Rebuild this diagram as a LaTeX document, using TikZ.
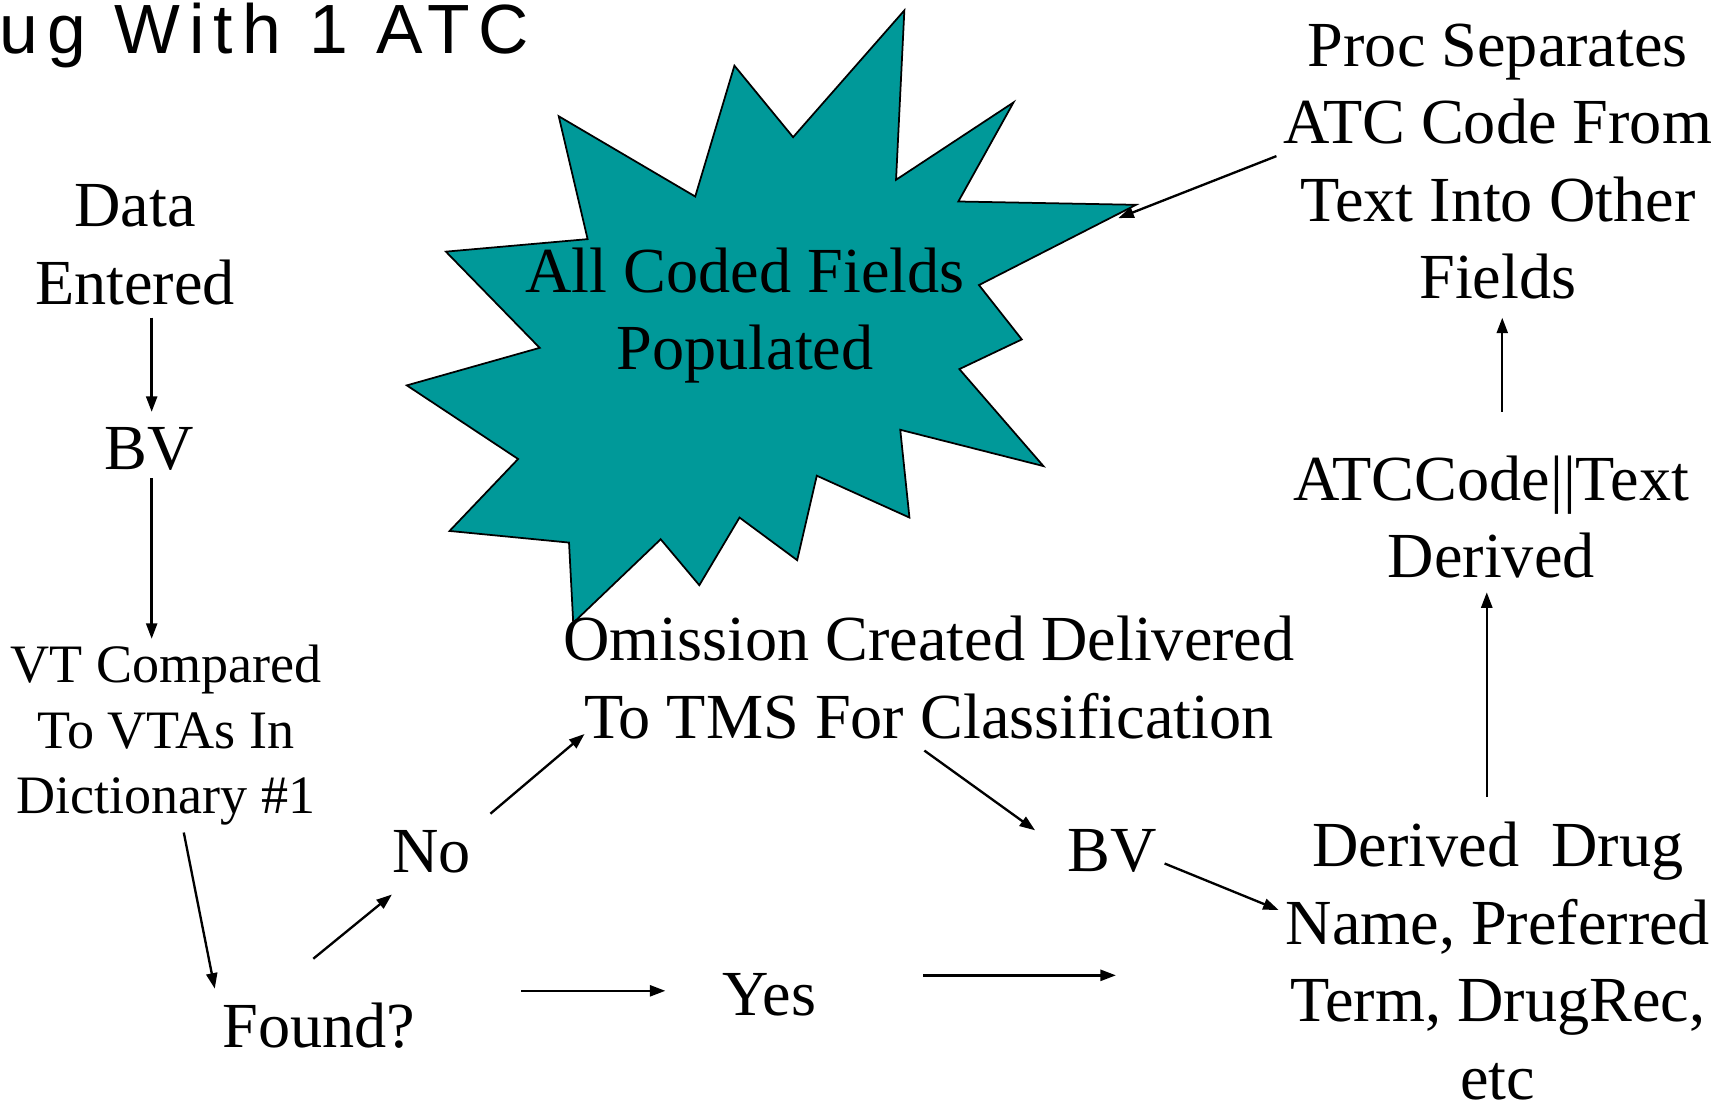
\documentclass[tikz,border=0pt]{standalone}
\usepackage{fontspec}
\setmainfont{Liberation Serif}
\newfontfamily\titlefont[LetterSpace=13]{Liberation Sans}
\usetikzlibrary{arrows.meta}
\definecolor{burst}{HTML}{009999}
\newcommand\mainfs{\fontsize{16.5pt}{19.9pt}\selectfont}
\newcommand\smallfs{\fontsize{13.9pt}{16.8pt}\selectfont}
\begin{document}
\begin{tikzpicture}[x=0.01cm,y=-0.01cm,
  lbl/.style={font=\mainfs, align=center, inner sep=0pt, anchor=base},
  conn/.style={-{Triangle[length=0.14cm,width=0.10cm]}, line width=0.6pt},
  burstshape/.style={fill=burst, draw=black, line width=0.45pt, line join=miter}]
\useasboundingbox (0,0) rectangle (1560,997.2);
% title (clipped at the left edge)
\node[anchor=base west, inner sep=0pt, font=\titlefont\fontsize{17.9pt}{20pt}\selectfont] (title) at (-1,48) {ug With 1 ATC};
% starburst
\draw[burstshape] (816.9,9.4) -- (809.4,162.4) -- (915.5,92.5) -- (865.7,182) -- (1026.2,185)
  -- (884.3,257.5) -- (923,306.6) -- (866.6,333.4) -- (942.5,421) -- (813.2,388.2)
  -- (821.5,467.5) -- (737.8,429.7) -- (720.1,506) -- (668,467.5) -- (631.7,528.6)
  -- (596.8,487.1) -- (517.8,562.6) -- (514,490.1) -- (406.1,479.6) -- (468,414.6)
  -- (367.5,348.1) -- (487.5,314.2) -- (402.8,227.3) -- (530.8,216) -- (504.7,105)
  -- (628,177.5) -- (663.4,59.3) -- (716.4,123.9) -- cycle;
\coordinate (burstR) at (1026.2,185);
% multi-line nodes are placed by the baseline of their last line
\node[lbl] (burstlbl) at (673,334) {All Coded Fields\\Populated};
\node[lbl] (data) at (122,275) {Data\\Entered};
\node[lbl] (bv1) at (135,424) {BV};
\node[lbl, font=\smallfs] (vt) at (150,735) {VT Compared\\To VTAs In\\Dictionary \#1};
\node[lbl] (found) at (288,946) {Found?};
\node[lbl] (no) at (390,788) {No};
\node[lbl] (yes) at (695,917) {Yes};
\node[lbl] (omit) at (839,667) {Omission Created Delivered\\To TMS For Classification};
\node[lbl] (bv2) at (1005,787) {BV};
\node[lbl] (drv) at (1353,993) {Derived~~Drug\\Name, Preferred\\Term, DrugRec,\\etc};
\node[lbl] (atc) at (1347,522) {ATCCode||Text\\Derived};
\node[lbl] (proc) at (1353,270) {Proc Separates\\ATC Code From\\Text Into Other\\Fields};
\coordinate (yesend) at (1008,881);
% connectors
\draw[conn] ([shift={(15,12)}]data.base) -- ([shift={(2,-52)}]bv1.base);
\draw[conn] ([shift={(2,8)}]bv1.base) -- ([shift={(-13,-158)}]vt.base);
\draw[conn] ([shift={(16,17)}]vt.base) -- ([shift={(-94,-53)}]found.base);
\draw[conn] ([shift={(-5,-80)}]found.base) -- ([shift={(-36,20)}]no.base);
\draw[conn] ([shift={(53,-53)}]no.base) -- ([shift={(-311,-4)}]omit.base);
\draw[conn] ([shift={(183,-51)}]found.base) -- ([shift={(-94,-22)}]yes.base);
\draw[conn] ([shift={(139,-36)}]yes.base) -- (yesend);
\draw[conn] ([shift={(-4,11)}]omit.base) -- ([shift={(-70,-37)}]bv2.base);
\draw[conn] ([shift={(47,-7)}]bv2.base) -- ([shift={(-198,-171)}]drv.base);
\draw[conn] ([shift={(-10,-273)}]drv.base) -- ([shift={(-4,13)}]atc.base);
\draw[conn] ([shift={(10,-150)}]atc.base) -- ([shift={(4,17)}]proc.base);
\draw[conn] ([shift={(-200,-129)}]proc.base) -- ([shift={(-16,12)}]burstR);
\end{tikzpicture}
\end{document}
